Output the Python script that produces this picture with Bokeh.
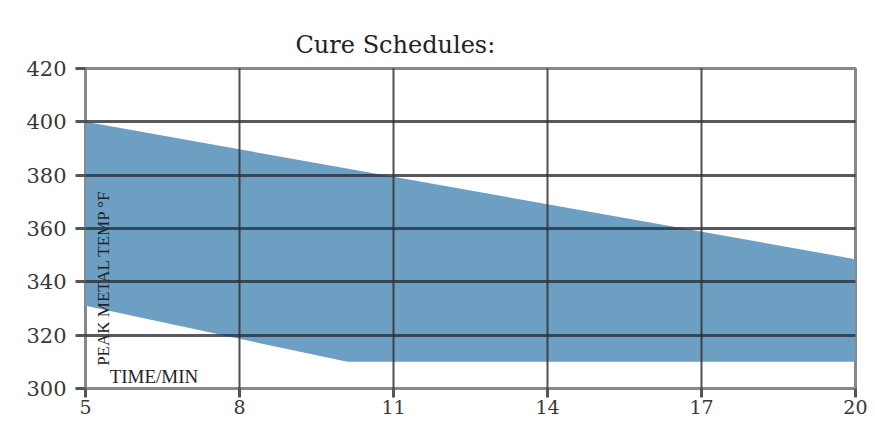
import math
from bokeh.plotting import figure
from bokeh.models import FixedTicker, Label, Range1d
from bokeh.embed import file_html
from bokeh.resources import INLINE

# Data
x_ticks = [5, 8, 11, 14, 17, 20]
y_ticks = [300, 320, 340, 360, 380, 400, 420]
upper_time = [5, 20]
upper_temp = [400, 348.5]
lower_time = [5, 10.1, 20]
lower_temp = [331, 310, 310]
title_text = "Cure Schedules:"
y_label = "PEAK METAL TEMP °F"
x_label = "TIME/MIN"

p = figure(width=867, height=422, output_backend="svg", toolbar_location=None,
           x_range=Range1d(5, 20), y_range=Range1d(300, 420),
           min_border_left=85, min_border_right=12, min_border_top=68, min_border_bottom=34)

poly_x = upper_time + lower_time[::-1]
poly_y = upper_temp + lower_temp[::-1]
p.patch(poly_x, poly_y, fill_color="#6d9fc3", line_color=None)

p.title.text = title_text
p.title.text_font = "DejaVu Serif"
p.title.text_font_size = "24px"
p.title.text_font_style = "normal"
p.title.text_color = "#222222"
p.title.align = "left"
p.title.offset = 210
p.title.standoff = 20

for ax in (p.xaxis, p.yaxis):
    ax.major_label_text_font = "DejaVu Serif"
    ax.major_label_text_color = "#383838"
    ax.axis_line_color = None
    ax.major_tick_line_color = "#555555"
    ax.major_tick_line_width = 3
    ax.major_tick_in = 0
    ax.minor_tick_line_color = None

p.yaxis.major_label_text_font_size = "21px"
p.yaxis.major_tick_out = 10
p.yaxis.major_label_standoff = 9

p.xaxis.major_label_text_font_size = "19px"
p.xaxis.major_tick_out = 9
p.xaxis.major_label_standoff = 2

p.xaxis.ticker = FixedTicker(ticks=x_ticks)
p.yaxis.ticker = FixedTicker(ticks=y_ticks)

p.xgrid.grid_line_color = "#333333"
p.xgrid.grid_line_width = 2
p.xgrid.grid_line_alpha = 0.85
p.ygrid.grid_line_color = "#2c3136"
p.ygrid.grid_line_width = 3
p.ygrid.grid_line_alpha = 0.8
p.xgrid.level = "overlay"
p.ygrid.level = "overlay"

p.outline_line_color = "#888888"
p.outline_line_width = 3

p.add_layout(Label(x=5.36, y=308.5, text=y_label, angle=math.pi / 2,
                   text_align="left", text_baseline="middle",
                   text_font="Liberation Serif", text_font_size="17px", text_color="#222222"))
p.add_layout(Label(x=5.47, y=304.5, text=x_label,
                   text_align="left", text_baseline="middle",
                   text_font="Liberation Serif", text_font_size="19px", text_color="#222222"))

p.background_fill_color = "white"
p.border_fill_color = "white"

open("out.html", "w").write(file_html(p, INLINE))
